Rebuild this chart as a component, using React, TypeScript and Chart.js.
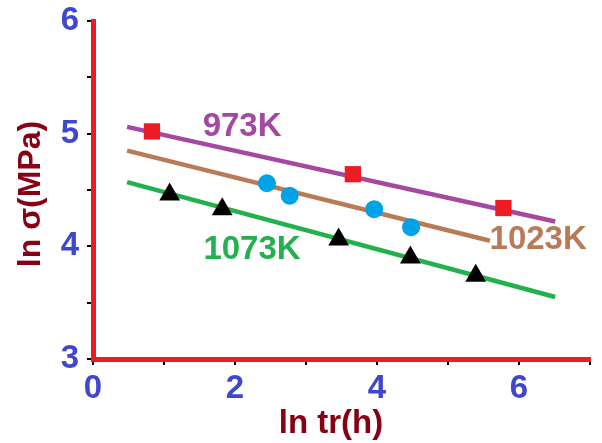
import React, { useEffect, useRef } from "react";
import { Chart, registerables } from "chart.js";
Chart.register(...registerables);

// Measured points
const x973 = [0.83, 3.66, 5.78];
const y973 = [5.02, 4.64, 4.34];
const x1023 = [2.45, 2.77, 3.96, 4.48];
const y1023 = [4.56, 4.45, 4.33, 4.17];
const x1073 = [1.08, 1.82, 3.46, 4.47, 5.39];
const y1073 = [4.46, 4.33, 4.06, 3.90, 3.74];

// Fitted lines (end points)
const fitX973 = [0.48, 6.51];
const fitY973 = [5.06, 4.22];
const fitX1023 = [0.48, 5.59];
const fitY1023 = [4.85, 4.05];
const fitX1073 = [0.48, 6.51];
const fitY1073 = [4.57, 3.55];

// Series labels
const seriesLabels = ["973K", "1023K", "1073K"];
const labelX = [2.1, 6.27, 2.24];
const labelY = [5.06, 4.06, 3.97];
const labelColors = ["#A349A4", "#B97A57", "#22B14C"];

const xTitle = "ln tr(h)";
const yTitle = "ln σ(MPa)";
const xTickLabels = ["0", "", "2", "", "4", "", "6", ""];

const FONT = "Arial, 'Liberation Sans', sans-serif";

const pts = (xs: number[], ys: number[]) => xs.map((v, i) => ({ x: v, y: ys[i] }));

export default function App() {
  const ref = useRef<HTMLCanvasElement>(null);
  useEffect(() => {
    if (!ref.current) return;
    const textPlugin = {
      id: "texts",
      afterDraw(chart: any) {
        const { ctx, scales, chartArea } = chart;
        const sx = scales.x;
        const sy = scales.y;
        ctx.save();
        ctx.font = `bold 33px ${FONT}`;
        ctx.textAlign = "center";
        ctx.textBaseline = "middle";
        seriesLabels.forEach((t, i) => {
          ctx.fillStyle = labelColors[i];
          ctx.fillText(t, sx.getPixelForValue(labelX[i]), sy.getPixelForValue(labelY[i]));
        });
        ctx.fillStyle = "#880015";
        ctx.fillText(xTitle, chartArea.left + 238, 424);
        ctx.font = `bold 32px ${FONT}`;
        ctx.translate(31, (chartArea.top + chartArea.bottom) / 2 + 4);
        ctx.rotate(-Math.PI / 2);
        ctx.fillText(yTitle, 0, 0);
        ctx.restore();
      },
    };
    const chart = new Chart(ref.current, {
      type: "scatter",
      data: {
        datasets: [
          {
            data: pts(x973, y973),
            pointStyle: "rect",
            pointRadius: 11.5,
            backgroundColor: "#ED1C24",
            borderColor: "#ED1C24",
            borderWidth: 0,
            order: 0,
          },
          {
            data: pts(x1023, y1023),
            pointStyle: "circle",
            pointRadius: 9,
            backgroundColor: "#00A2E8",
            borderColor: "#00A2E8",
            borderWidth: 0,
            order: 0,
          },
          {
            data: pts(x1073, y1073),
            pointStyle: "triangle",
            pointRadius: 9.5,
            backgroundColor: "#000000",
            borderColor: "#000000",
            borderWidth: 2.5,
            order: 0,
          },
          {
            data: pts(fitX973, fitY973),
            showLine: true,
            pointRadius: 0,
            borderColor: "#A349A4",
            borderWidth: 4.5,
            order: 1,
          },
          {
            data: pts(fitX1023, fitY1023),
            showLine: true,
            pointRadius: 0,
            borderColor: "#B97A57",
            borderWidth: 4.5,
            order: 1,
          },
          {
            data: pts(fitX1073, fitY1073),
            showLine: true,
            pointRadius: 0,
            borderColor: "#22B14C",
            borderWidth: 4.5,
            order: 1,
          },
        ],
      },
      options: {
        animation: false,
        responsive: false,
        devicePixelRatio: 1,
        layout: { padding: { top: 21, right: 9, left: 0, bottom: 0 } },
        plugins: { legend: { display: false }, tooltip: { enabled: false } },
        scales: {
          x: {
            type: "linear",
            min: 0,
            max: 7,
            afterFit: (s: any) => {
              s.height = 84;
              s.paddingLeft = 0;
              s.paddingRight = 0;
            },
            border: { color: "#ED1C24", width: 5 },
            grid: {
              drawOnChartArea: false,
              drawTicks: true,
              tickLength: 6,
              tickColor: "#000000",
              lineWidth: 2,
            },
            ticks: {
              stepSize: 1,
              autoSkip: false,
              maxRotation: 0,
              padding: 4,
              color: "#3F48CC",
              font: { family: FONT, size: 33, weight: "bold" },
              callback: (v: any) => xTickLabels[Math.round(Number(v))] ?? "",
            },
          },
          y: {
            type: "linear",
            min: 3,
            max: 6,
            afterFit: (s: any) => {
              s.width = 93;
              s.paddingTop = 0;
              s.paddingBottom = 0;
            },
            border: { color: "#ED1C24", width: 5 },
            grid: {
              drawOnChartArea: false,
              drawTicks: true,
              tickLength: 6,
              tickColor: "#000000",
              lineWidth: 2,
            },
            ticks: {
              stepSize: 0.5,
              autoSkip: false,
              padding: 8,
              color: "#3F48CC",
              font: { family: FONT, size: 33, weight: "bold" },
              callback: (v: any) => (Number.isInteger(Number(v)) ? String(v) : ""),
            },
          },
        },
      },
      plugins: [textPlugin],
    } as any);
    return () => chart.destroy();
  }, []);
  return (
    <div style={{ position: "fixed", left: 0, top: 0, width: 602, height: 443, background: "#fff" }}>
      <canvas ref={ref} width={602} height={443} style={{ display: "block" }} />
    </div>
  );
}
